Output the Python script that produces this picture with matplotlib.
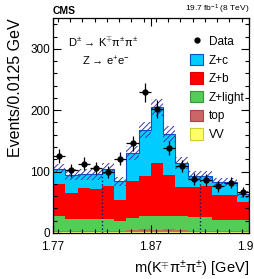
import numpy as np
import matplotlib
matplotlib.use('Agg')
import matplotlib.pyplot as plt
from matplotlib.patches import Patch
from matplotlib.lines import Line2D
from matplotlib.ticker import MultipleLocator

plt.rcParams['font.family'] = ['Liberation Sans', 'DejaVu Sans']
plt.rcParams['mathtext.fontset'] = 'custom'
plt.rcParams['mathtext.rm'] = 'Liberation Sans'
plt.rcParams['mathtext.it'] = 'Liberation Sans:italic'
plt.rcParams['mathtext.bf'] = 'Liberation Sans:bold'
plt.rcParams['hatch.linewidth'] = 0.7

# 16 bins of 0.0125 GeV from 1.77 to 1.97
edges = np.linspace(1.77, 1.97, 17)
centers = 0.5 * (edges[1:] + edges[:-1])

data = np.array([125, 102, 113, 106, 99, 121, 146, 229, 202, 138, 109, 88, 86, 76, 82, 66])
vv = np.array([1.5, 1.5, 1.5, 1.5, 1.5, 1.5, 1.5, 1.5, 1.5, 1.5, 1.5, 1.5, 1.5, 1.5, 1.5, 1.5])
top = np.array([2.5, 2.5, 2.5, 2.5, 2.5, 2.5, 3, 5.5, 3, 5.5, 3, 2.5, 2.5, 2.5, 2.5, 2.5])
zlight = np.array([24, 19, 19, 19, 19, 16, 19.5, 21, 23.5, 21, 23.5, 22, 22, 17, 17, 17])
zb = np.array([51, 42, 50, 48, 54, 34, 60, 64, 86, 66, 47, 49.5, 50, 41, 41, 30])
zc = np.array([26, 30, 23, 25, 28, 30, 46, 76, 91, 67, 39, 17.5, 17, 21, 21, 12])
unc = np.array([8, 9, 9, 9, 9, 7, 11, 13, 14, 13, 10, 8, 8, 7, 7, 6])

window = [1.82, 1.92]

samples = [('VV', vv, '#ffff66', '#cccc33'),
           ('top', top, '#cc6666', '#aa4444'),
           ('Z+light', zlight, '#55cc55', '#339933'),
           ('Z+b', zb, '#ff0000', '#dd0000'),
           ('Z+c', zc, '#00ccff', '#0055cc')]

fig = plt.figure(figsize=(2.55, 2.79), dpi=100)
ax = fig.add_axes([0.208, 0.165, 0.768, 0.770])

base = np.zeros(len(data))
for name, vals, fc, ec in samples:
    ax.stairs(base + vals, edges, baseline=base, fill=True, color=fc, lw=0)
    base = base + vals
total = base
ax.stairs(total, edges, color='#0055cc', lw=0.8)

# MC uncertainty band
ax.stairs(total + unc, edges, baseline=total - unc, fill=True,
          facecolor='none', edgecolor='#3a3aa8', hatch='//////', lw=0)

# signal window lines
for w in window:
    i = np.searchsorted(edges, w)
    ax.vlines(w, 0, total[i], colors='#101060', linestyles=':', lw=1)

ax.errorbar(centers, data, yerr=np.sqrt(data), xerr=0.00625, fmt='o',
            color='black', markersize=3.5, elinewidth=0.9, capsize=0)

ax.set_xlim(1.77, 1.97)
ax.set_ylim(0, 350)
ax.set_xticks([1.77, 1.87, 1.97])
ax.set_xticklabels(['1.77', '1.87', '1.97'])
ax.set_yticks([0, 100, 200, 300])
ax.xaxis.set_minor_locator(MultipleLocator(0.0125))
ax.yaxis.set_minor_locator(MultipleLocator(20))
ax.tick_params(which='both', direction='in', top=True, right=True, labelsize=8.5)
ax.tick_params(which='major', length=6, width=0.8)
ax.tick_params(which='minor', length=3, width=0.8)
ax.tick_params(axis='x', pad=6)
ax.tick_params(axis='y', pad=2)
for s in ax.spines.values():
    s.set_linewidth(0.9)

ax.set_ylabel('Events/0.0125 GeV', fontsize=11.5, loc='top', labelpad=5)
ax.set_xlabel(r'm(K$^{\mp}$π$^{\pm}$π$^{\pm}$) [GeV]', fontsize=10.5, loc='right', labelpad=4)

ax.text(0.0, 1.012, 'CMS', transform=ax.transAxes, fontsize=7.5,
        fontweight='bold', ha='left', va='bottom')
ax.text(1.0, 1.012, r'19.7 fb$^{-1}$ (8 TeV)', transform=ax.transAxes,
        fontsize=6, ha='right', va='bottom')

ax.text(0.077, 0.888, r'D$^{\pm}$ → K$^{\mp}$π$^{\pm}$π$^{\pm}$', transform=ax.transAxes,
        fontsize=8, ha='left', va='center')
ax.text(0.148, 0.80, r'Z → e$^{+}$e$^{-}$', transform=ax.transAxes,
        fontsize=8, ha='left', va='center')

handles = [Line2D([], [], marker='o', color='black', ls='none', markersize=3.5)]
labels = ['Data']
for name, vals, fc, ec in samples[::-1]:
    handles.append(Patch(facecolor=fc, edgecolor=ec, lw=0.8))
    labels.append(name)
ax.legend(handles, labels, loc='upper left', bbox_to_anchor=(0.70, 0.92),
          frameon=False, fontsize=8.5, handlelength=1.1, handleheight=1.1,
          handletextpad=0.5, labelspacing=0.5, borderpad=0, borderaxespad=0)

fig.savefig('out.png', dpi=100)
